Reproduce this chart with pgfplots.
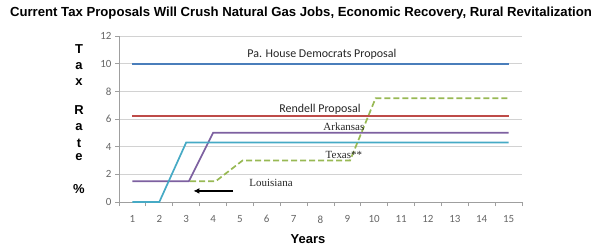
\documentclass[border=0pt]{standalone}
\usepackage{pgfplots}
\pgfplotsset{compat=1.18}
\usetikzlibrary{arrows.meta}
\usepackage{fontspec}
\setmainfont{Carlito}
\newfontfamily\arialf{Liberation Sans}
\newfontfamily\tnr{Liberation Serif}
\definecolor{cPa}{HTML}{4A7EBB}
\definecolor{cRen}{HTML}{BE4B48}
\definecolor{cArk}{HTML}{7D60A0}
\definecolor{cLou}{HTML}{46AAC5}
\definecolor{cTex}{HTML}{98B954}
\definecolor{tickgray}{HTML}{666666}
\begin{document}
\begin{tikzpicture}[x=1bp,y=1bp]
\useasboundingbox (0,0) rectangle (600,250);
\begin{axis}[at={(119bp,48bp)}, anchor=south west, scale only axis,
  width=403bp, height=166bp,
  xmin=0.5, xmax=15.5, ymin=0, ymax=12,
  axis lines*=left,
  axis line style={draw=gray!75, line width=0.8bp},
  xtick={1,...,15}, ytick={0,2,...,12},
  minor xtick={0.5,1.5,...,15.5}, minor ytick={0,2,...,12},
  major tick length=0pt, minor tick length=4bp, tick align=outside,
  minor tick style={draw=gray!75, line width=0.8bp},
  ymajorgrids, grid style={draw=gray!35, line width=0.8bp},
  tick label style={font=\fontsize{11}{13}\selectfont, text=tickgray},
  /pgf/number format/assume math mode=true,
  xticklabel style={yshift=-10bp},
  yticklabel style={xshift=-4bp},
  clip=false,
]
\addplot[cPa, line width=1.7bp] coordinates {(1,10)(2,10)(3,10)(4,10)(5,10)(6,10)(7,10)(8,10)(9,10)(10,10)(11,10)(12,10)(13,10)(14,10)(15,10)};
\addplot[cRen, line width=1.7bp] coordinates {(1,6.2)(2,6.2)(3,6.2)(4,6.2)(5,6.2)(6,6.2)(7,6.2)(8,6.2)(9,6.2)(10,6.2)(11,6.2)(12,6.2)(13,6.2)(14,6.2)(15,6.2)};
\addplot[cArk, line width=1.7bp] coordinates {(1,1.5)(2,1.5)(3.1,1.5)(4,5)(5,5)(6,5)(7,5)(8,5)(9,5)(10,5)(11,5)(12,5)(13,5)(14,5)(15,5)};
\addplot[cLou, line width=1.7bp] coordinates {(1,0)(2,0)(3,4.3)(4,4.3)(5,4.3)(6,4.3)(7,4.3)(8,4.3)(9,4.3)(10,4.3)(11,4.3)(12,4.3)(13,4.3)(14,4.3)(15,4.3)};
\addplot[cTex, line width=1.7bp, dash pattern=on 6bp off 3bp] coordinates {(3.15,1.5)(4.1,1.5)(5.1,3)(6,3)(7,3)(8,3)(9.1,3)(10.05,7.5)(11,7.5)(12,7.5)(13,7.5)(14,7.5)(15,7.5)};
\node[font=\fontsize{12}{14}\selectfont, text=black!85] at (axis cs:8.05,10.65) {Pa. House Democrats Proposal};
\node[font=\fontsize{12}{14}\selectfont, text=black!85] at (axis cs:7.98,6.72) {Rendell Proposal};
\node[font=\tnr\fontsize{11}{13}\selectfont, text=black!85] at (axis cs:8.87,5.42) {Arkansas};
\node[font=\tnr\fontsize{11}{13}\selectfont, text=black!85] at (axis cs:8.87,3.40) {Texas**};
\node[font=\tnr\fontsize{11}{13}\selectfont, text=black!85] at (axis cs:6.16,1.37) {Louisiana};
\draw[-{Latex[length=6bp,width=6bp]}, line width=1.5bp, black] (axis cs:4.75,0.8) -- (axis cs:3.27,0.8);
\end{axis}
\node[font=\arialf\bfseries\fontsize{13.2}{15}\selectfont] at (301,237) {Current Tax Proposals Will Crush Natural Gas Jobs, Economic Recovery, Rural Revitalization};
\node[font=\arialf\bfseries\fontsize{13}{15}\selectfont] at (308,11) {Years};
\foreach \ch/\yy in {T/201, a/184, x/168, R/140, a/123, t/107, e/93, \%/61}
  \node[font=\arialf\bfseries\fontsize{13}{15}\selectfont] at (79,\yy) {\ch};
\end{tikzpicture}
\end{document}
